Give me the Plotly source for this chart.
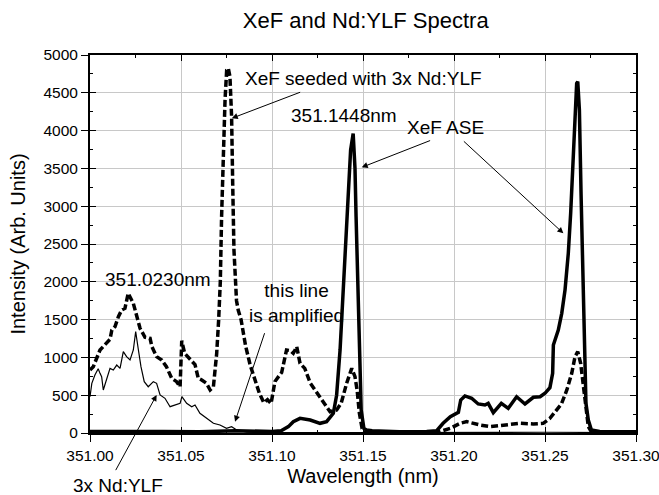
import plotly.graph_objects as go

# ---- data ----
seeded_wl = [351.000, 351.0018, 351.0055, 351.0082, 351.011, 351.012, 351.0137, 351.0156, 351.0174, 351.0192,
             351.021, 351.0238, 351.0256, 351.0275, 351.0302, 351.033, 351.034, 351.0366, 351.0394, 351.042,
             351.0449, 351.0476, 351.0495, 351.0504, 351.052, 351.055, 351.0577, 351.0595, 351.0614, 351.064,
             351.066, 351.0678, 351.0696, 351.0707, 351.0716, 351.0723, 351.0733, 351.0742, 351.0751, 351.076,
             351.0769, 351.0778, 351.0784, 351.0791, 351.0805, 351.0815, 351.083, 351.0855, 351.088, 351.0905,
             351.093, 351.0955, 351.0975, 351.0995, 351.101, 351.1016, 351.104, 351.1053, 351.108, 351.110,
             351.1117, 351.1136, 351.1154, 351.118, 351.121, 351.1236, 351.1264, 351.129, 351.1319, 351.1355,
             351.138, 351.141, 351.1438, 351.1456, 351.1468, 351.148, 351.1495, 351.151, 351.160, 351.170,
             351.180, 351.190, 351.1923, 351.198, 351.2033, 351.207, 351.2105, 351.2143, 351.220, 351.229,
             351.2363, 351.2435, 351.249, 351.2527, 351.2564, 351.259, 351.262, 351.2647, 351.2665, 351.268,
             351.2696, 351.271, 351.2724, 351.2738, 351.2756, 351.285, 351.300]
seeded_val = [833, 877, 1098, 1164, 1239, 1362, 1406, 1538, 1627, 1649,
              1848, 1715, 1538, 1385, 1266, 1252, 1142, 1010, 966, 877,
              723, 679, 612, 1220, 1054, 966, 905, 723, 701, 657,
              569, 612, 1050, 1500, 2000, 2861, 3743, 4405, 4802, 4824,
              4713, 4184, 3303, 2420, 1750, 1620, 1500, 1150, 900, 700,
              530, 400, 440, 390, 560, 680, 760, 800, 1098, 1090,
              1054, 1142, 922, 855, 661, 569, 480, 397, 282, 304,
              393, 657, 855, 745, 560, 264, 60, 15, 10, 8,
              12, 15, 20, 62, 128, 150, 128, 106, 84, 106,
              128, 120, 128, 194, 304, 384, 569, 789, 1010, 1076,
              922, 657, 348, 84, 10, 5, 5]

ase_wl = [351.000, 351.020, 351.040, 351.060, 351.080, 351.100, 351.105, 351.109, 351.1117, 351.1154,
          351.121, 351.1264, 351.130, 351.1337, 351.1355, 351.1374, 351.1392, 351.1407, 351.142, 351.1432,
          351.1446, 351.1456, 351.1462, 351.1471, 351.148, 351.149, 351.1505, 351.152, 351.155, 351.170,
          351.185, 351.1905, 351.194, 351.198, 351.2024, 351.2037, 351.206, 351.2097, 351.2133, 351.217,
          351.2188, 351.2216, 351.226, 351.2298, 351.2344, 351.239, 351.2436, 351.2473, 351.250, 351.2527,
          351.2542, 351.2546, 351.2573, 351.2592, 351.261, 351.2628, 351.2641, 351.2652, 351.2663, 351.2674,
          351.268, 351.2689, 351.2698, 351.2707, 351.2716, 351.2725, 351.2738, 351.2755, 351.280, 351.300]
ase_val = [20, 25, 20, 15, 30, 20, 30, 84, 150, 194,
           172, 128, 150, 260, 500, 1098, 1891, 2641, 3303, 3743,
           3960, 3500, 2861, 1980, 1098, 304, 60, 40, 30, 15,
           20, 30, 128, 216, 273, 436, 490, 459, 384, 370,
           393, 269, 393, 326, 480, 384, 472, 480, 525, 600,
           789, 1164, 1362, 1583, 1891, 2377, 2906, 3479, 4052, 4626,
           4647, 4272, 3171, 2067, 966, 393, 172, 40, 20, 15]

ndylf_wl = [351.000, 351.001, 351.0027, 351.0045, 351.0055, 351.0064, 351.0073, 351.0092, 351.011, 351.0128,
            351.0147, 351.0165, 351.0183, 351.0201, 351.022, 351.0238, 351.0251, 351.0266, 351.028, 351.0298,
            351.032, 351.0348, 351.0366, 351.0385, 351.0412, 351.044, 351.0467, 351.0495, 351.0505, 351.0531,
            351.0559, 351.0577, 351.0604, 351.064, 351.0678, 351.0714, 351.075, 351.0778, 351.0806, 351.086,
            351.100, 351.150, 351.200, 351.250, 351.300]
ndylf_val = [480, 657, 767, 850, 789, 745, 569, 701, 855, 833,
             899, 855, 1076, 1010, 966, 1098, 1340, 1098, 877, 679,
             612, 679, 657, 503, 459, 348, 370, 393, 480, 393,
             348, 370, 260, 194, 128, 106, 62, 84, 40, 10,
             5, 5, 10, 10, 5]

x_ticks = [351.00, 351.05, 351.10, 351.15, 351.20, 351.25, 351.30]
y_ticks = [0, 500, 1000, 1500, 2000, 2500, 3000, 3500, 4000, 4500, 5000]
x_range = [351.0, 351.3]
y_range = [0, 5000]

FONT = "Liberation Sans, Arial, sans-serif"

fig = go.Figure()
fig.add_trace(go.Scatter(x=ndylf_wl, y=ndylf_val, mode="lines",
                         line=dict(color="black", width=1.2), name="3x Nd:YLF"))
fig.add_trace(go.Scatter(x=ase_wl, y=ase_val, mode="lines",
                         line=dict(color="black", width=3.5), name="XeF ASE"))
fig.add_trace(go.Scatter(x=seeded_wl, y=seeded_val, mode="lines",
                         line=dict(color="black", width=3.5, dash="7px,3px"),
                         name="XeF seeded with 3x Nd:YLF"))
# empty trace that carries the overlay axes (outside ticks + labels)
fig.add_trace(go.Scatter(x=[], y=[], xaxis="x2", yaxis="y2", hoverinfo="skip", showlegend=False))

tickfont = dict(size=15.5, color="black", family=FONT)
titlefont = dict(size=20, family=FONT, color="black")

inner = dict(showline=True, linecolor="black", linewidth=2, mirror="ticks",
             ticks="inside", ticklen=6, tickwidth=1, tickcolor="black",
             showgrid=True, gridcolor="#c8c8c8", gridwidth=1, zeroline=False,
             showticklabels=False, automargin=False)
outer = dict(ticks="outside", ticklen=8, tickwidth=1, tickcolor="black",
             showgrid=False, showline=False, zeroline=False, tickfont=tickfont,
             ticklabeloverflow="allow", automargin=False)

fig.update_layout(
    xaxis=dict(range=x_range, tickvals=x_ticks,
               minor=dict(ticks="inside", ticklen=3, dtick=0.025, tick0=351.0, showgrid=False, tickcolor="black"),
               **inner),
    yaxis=dict(range=y_range, tickvals=y_ticks,
               minor=dict(ticks="inside", ticklen=3, dtick=250, tick0=0, showgrid=False, tickcolor="black"),
               **inner),
    xaxis2=dict(range=x_range, tickvals=x_ticks, tickformat=".2f", overlaying="x", anchor="y2", side="bottom",
                title=dict(text="Wavelength (nm)", font=titlefont, standoff=6), **outer),
    yaxis2=dict(range=y_range, tickvals=y_ticks, overlaying="y", anchor="x2", side="left",
                title=dict(text="Intensity (Arb. Units)", font=titlefont, standoff=12), **outer),
)

arrow = dict(showarrow=True, arrowhead=2, arrowsize=1.2, arrowwidth=1, arrowcolor="black",
             xref="x", yref="y", axref="x", ayref="y", text="")
afont = dict(size=19, family=FONT, color="black")
txt = dict(showarrow=False, xref="x", yref="y", font=afont)

annotations = [
    dict(text="XeF seeded with 3x Nd:YLF", x=351.150, y=4692, **txt),
    dict(x=351.0779, y=4163, ax=351.1163, ay=4515, **arrow),
    dict(text="351.1448nm", x=351.1393, y=4206, **txt),
    dict(text="XeF ASE", x=351.1956, y=4044, **txt),
    dict(x=351.1493, y=3514, ax=351.1877, ay=3876, **arrow),
    dict(x=351.2601, y=2641, ax=351.2046, ay=3876, **arrow),
    dict(text="351.0230nm", x=351.0371, y=2033, **txt),
    dict(text="this line<br>is amplified", x=351.1132, y=1716, **txt),
    dict(x=351.0797, y=150, ax=351.0962, ay=1340, **arrow),
    dict(text="3x Nd:YLF", x=351.0156, y=-0.1376, xref="x", yref="paper", yanchor="middle",
         xanchor="center", showarrow=False, font=afont),
    dict(x=351.0366, y=503, ax=351.0137, ay=-511, **arrow),
]

fig.update_layout(
    width=659, height=495,
    margin=dict(l=90, r=23, t=55, b=62, autoexpand=False),
    paper_bgcolor="white", plot_bgcolor="white",
    showlegend=False,
    font=dict(family=FONT, color="black"),
    title=dict(text="XeF and Nd:YLF Spectra", x=0.505, xref="paper", y=1 - 20 / 495, yref="container",
               yanchor="middle", xanchor="center", font=dict(size=22, family=FONT, color="black")),
    annotations=annotations,
)

fig.write_html("out.html")
